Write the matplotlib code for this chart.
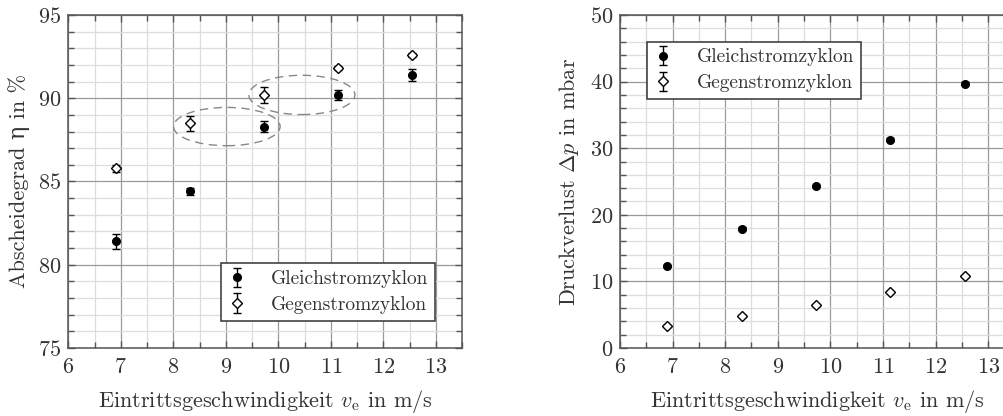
import matplotlib.pyplot as plt
from matplotlib.patches import Ellipse
from matplotlib.ticker import MultipleLocator

velocity = [6.9, 8.31, 9.72, 11.13, 12.55]
etaGleich = [81.4, 84.4, 88.3, 90.2, 91.4]
etaGleichErr = [0.45, 0.2, 0.35, 0.3, 0.35]
etaGegen = [85.8, 88.5, 90.2, 91.8, 92.6]
etaGegenErr = [0.2, 0.45, 0.5, 0.12, 0.12]
dpGleich = [12.3, 17.9, 24.3, 31.3, 39.7]
dpGleichErr = [0.2, 0.2, 0.2, 0.2, 0.2]
dpGegen = [3.35, 4.8, 6.45, 8.4, 10.75]
dpGegenErr = [0.15, 0.15, 0.15, 0.15, 0.15]
labels = ["Gleichstromzyklon", "Gegenstromzyklon"]

# Ellipsen um vergleichbare Punkte: (x, y, breite, hoehe)
ellipses = [(9.02, 88.3, 2.03, 2.3), (10.45, 90.2, 2.02, 2.36)]

plt.rcParams['font.family'] = ['cmr10', 'DejaVu Serif']
plt.rcParams['mathtext.fontset'] = 'cm'
plt.rcParams['axes.formatter.use_mathtext'] = True
plt.rcParams['font.size'] = 16

textColor = '#333333'
spineColor = '#555555'

fig = plt.figure(figsize=(10.04, 4.16), dpi=100)
axLeft = fig.add_axes([68.3 / 1004, 1 - 348 / 416, (462 - 68.3) / 1004, 333 / 416])
axRight = fig.add_axes([620 / 1004, 1 - 348 / 416, (1014.5 - 620) / 1004, 333 / 416])


def styleAxis(ax, yMinor):
    ax.set_xlim(6, 13.5)
    ax.xaxis.set_major_locator(MultipleLocator(1))
    ax.xaxis.set_minor_locator(MultipleLocator(0.5))
    ax.yaxis.set_minor_locator(MultipleLocator(yMinor))
    ax.grid(True, which='major', color='#999999', linewidth=0.9)
    ax.grid(True, which='minor', color='#dddddd', linewidth=0.9)
    ax.set_axisbelow(True)
    ax.tick_params(which='both', direction='in', top=True, right=True, colors=spineColor,
                   labelcolor=textColor)
    ax.tick_params(which='major', length=5, width=1)
    ax.tick_params(which='minor', length=4, width=1)
    ax.tick_params(axis='x', pad=7)
    ax.tick_params(axis='y', pad=5)
    for spine in ax.spines.values():
        spine.set_color(spineColor)
        spine.set_linewidth(1.1)
    ax.set_xlabel(r"Eintrittsgeschwindigkeit $v_\mathrm{e}$ in m/s", color=textColor, labelpad=8)


def drawSeries(ax, yG, yGErr, yH, yHErr):
    a = ax.errorbar(velocity, yG, yerr=yGErr, fmt='o', color='black', markersize=5.5,
                    capsize=3, elinewidth=1, capthick=1, label=labels[0])
    b = ax.errorbar(velocity, yH, yerr=yHErr, fmt='D', color='black', markerfacecolor='white',
                    markersize=5.5, markeredgewidth=1, capsize=3, elinewidth=1, capthick=1,
                    label=labels[1])
    return a, b


def addLegend(ax, loc, anchor):
    leg = ax.legend(loc=loc, bbox_to_anchor=anchor, fancybox=False,
                    edgecolor='#333333', framealpha=1, handletextpad=1.3,
                    borderpad=0.35, labelspacing=0.4, handlelength=0.9,
                    borderaxespad=0, fontsize=14)
    leg.get_frame().set_linewidth(1.1)
    for t in leg.get_texts():
        t.set_color(textColor)
    return leg


# linkes Diagramm: Abscheidegrad
drawSeries(axLeft, etaGleich, etaGleichErr, etaGegen, etaGegenErr)
styleAxis(axLeft, 1)
axLeft.set_ylim(75, 95)
axLeft.yaxis.set_major_locator(MultipleLocator(5))
axLeft.set_ylabel("Abscheidegrad η in %", color=textColor, labelpad=6)
for ex, ey, ew, eh in ellipses:
    axLeft.add_patch(Ellipse((ex, ey), ew, eh, fill=False, edgecolor='#888888',
                             linestyle=(0, (6, 4)), linewidth=1))
addLegend(axLeft, 'lower right', (0.931, 0.082))

# rechtes Diagramm: Druckverlust
drawSeries(axRight, dpGleich, dpGleichErr, dpGegen, dpGegenErr)
styleAxis(axRight, 2)
axRight.set_ylim(0, 50)
axRight.yaxis.set_major_locator(MultipleLocator(10))
axRight.set_ylabel(r"Druckverlust $\Delta p$ in mbar", color=textColor, labelpad=6)
addLegend(axRight, 'upper left', (0.069, 0.92))

fig.savefig("out.png", dpi=100)
